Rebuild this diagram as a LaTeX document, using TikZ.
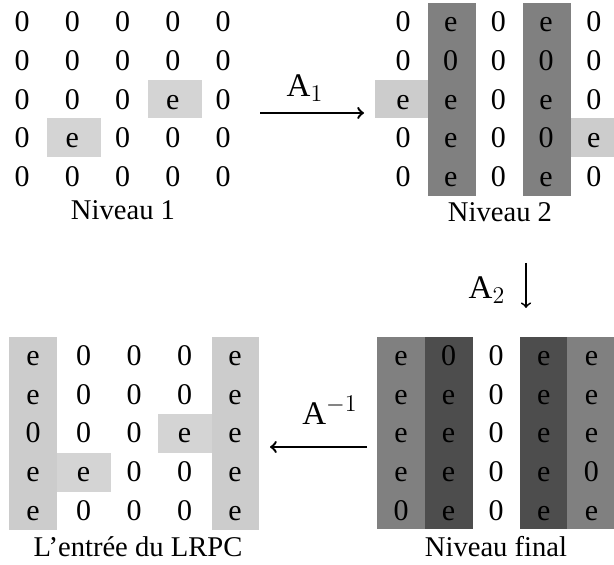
\documentclass[tikz,border=0pt]{standalone}
\usepackage{fontspec}
\setmainfont{Liberation Serif}
\definecolor{cellpale}{HTML}{D4D4D4}
\definecolor{cellgray}{HTML}{CCCCCC}
\definecolor{colmid}{HTML}{808080}
\definecolor{coldark}{HTML}{4D4D4D}
\tikzset{
  entry/.style={font=\fontsize{15}{17}\selectfont, inner sep=0pt, text height=10pt, text depth=0pt},
  levelname/.style={font=\fontsize{14.3}{16}\selectfont, inner sep=0pt},
  maplabel/.style={font=\fontsize{16.5}{18}\selectfont, inner sep=0pt},
  maparrow/.style={->, line width=1.2pt},
}
\begin{document}
\begin{tikzpicture}[x=0.5pt,y=-0.5pt]
      \useasboundingbox (0,0) rectangle (614,565);

      % Shaded cells and columns
      \fill[cellpale] (148,80) rectangle (202,118);
      \fill[cellpale] (47,118) rectangle (101,157);

      \fill[colmid] (428,3) rectangle (476,196);
      \fill[colmid] (523,3) rectangle (571,196);
      \fill[cellgray] (375,80) rectangle (428,118);
      \fill[cellgray] (571,118) rectangle (614,157);

      \fill[cellgray] (9,337) rectangle (57,530);
      \fill[cellgray] (212,337) rectangle (259,530);
      \fill[cellpale] (158,414) rectangle (212,453);
      \fill[cellpale] (57,453) rectangle (111,492);

      \fill[colmid] (377,337) rectangle (425,529);
      \fill[coldark] (425,337) rectangle (473,529);
      \fill[coldark] (520,337) rectangle (567,529);
      \fill[colmid] (567,337) rectangle (615,529);

      % Niveau 1
      \foreach \row [count=\r] in {{0,0,0,0,0},{0,0,0,0,0},{0,0,0,e,0},{0,e,0,0,0},{0,0,0,0,0}}
        \foreach \v [count=\c] in \row
          \node[entry] (one-\r-\c) at ({22+50.3*(\c-1)},{22+38.6*(\r-1)}) {\v};
      \node[levelname] (one) at (123,210) {Niveau 1};

      % Niveau 2
      \foreach \row [count=\r] in {{0,e,0,e,0},{0,0,0,0,0},{e,e,0,e,0},{0,e,0,0,e},{0,e,0,e,0}}
        \foreach \v [count=\c] in \row
          \node[entry] (two-\r-\c) at ({403+47.7*(\c-1)},{22+38.6*(\r-1)}) {\v};
      \node[levelname] (two) at (500,212) {Niveau 2};

      % Niveau final
      \foreach \row [count=\r] in {{e,0,0,e,e},{e,e,0,e,e},{e,e,0,e,e},{e,e,0,e,0},{0,e,0,e,e}}
        \foreach \v [count=\c] in \row
          \node[entry] (fin-\r-\c) at ({401+47.6*(\c-1)},{356+38.5*(\r-1)}) {\v};
      \node[levelname] (fin) at (496,547) {Niveau final};

      % Entree du LRPC
      \foreach \row [count=\r] in {{e,0,0,0,e},{e,0,0,0,e},{0,0,0,e,e},{e,e,0,0,e},{e,0,0,0,e}}
        \foreach \v [count=\c] in \row
          \node[entry] (lrpc-\r-\c) at ({33+50.5*(\c-1)},{356+38.5*(\r-1)}) {\v};
      \node[levelname] (lrpc) at (138,547) {L’entrée du LRPC};

      % Arrows between the levels
      \coordinate (a1from) at (260,113);
      \coordinate (a1to) at (364,113);
      \coordinate (a2from) at (526,263);
      \coordinate (a2to) at (526,308);
      \coordinate (a3from) at (367,447);
      \coordinate (a3to) at (270,447);

      \draw[maparrow] (a1from) -- (a1to);
      \draw[->, line width=0.9pt] (a2from) -- (a2to);
      \draw[maparrow] (a3from) -- (a3to);

      \node[maplabel] (lblA1) at (305,88) {A$_1$};
      \node[maplabel] (lblA2) at (487,290) {A$_2$};
      \node[maplabel] (lblA3) at (330,410) {A$^{-1}$};
    \end{tikzpicture}
\end{document}
